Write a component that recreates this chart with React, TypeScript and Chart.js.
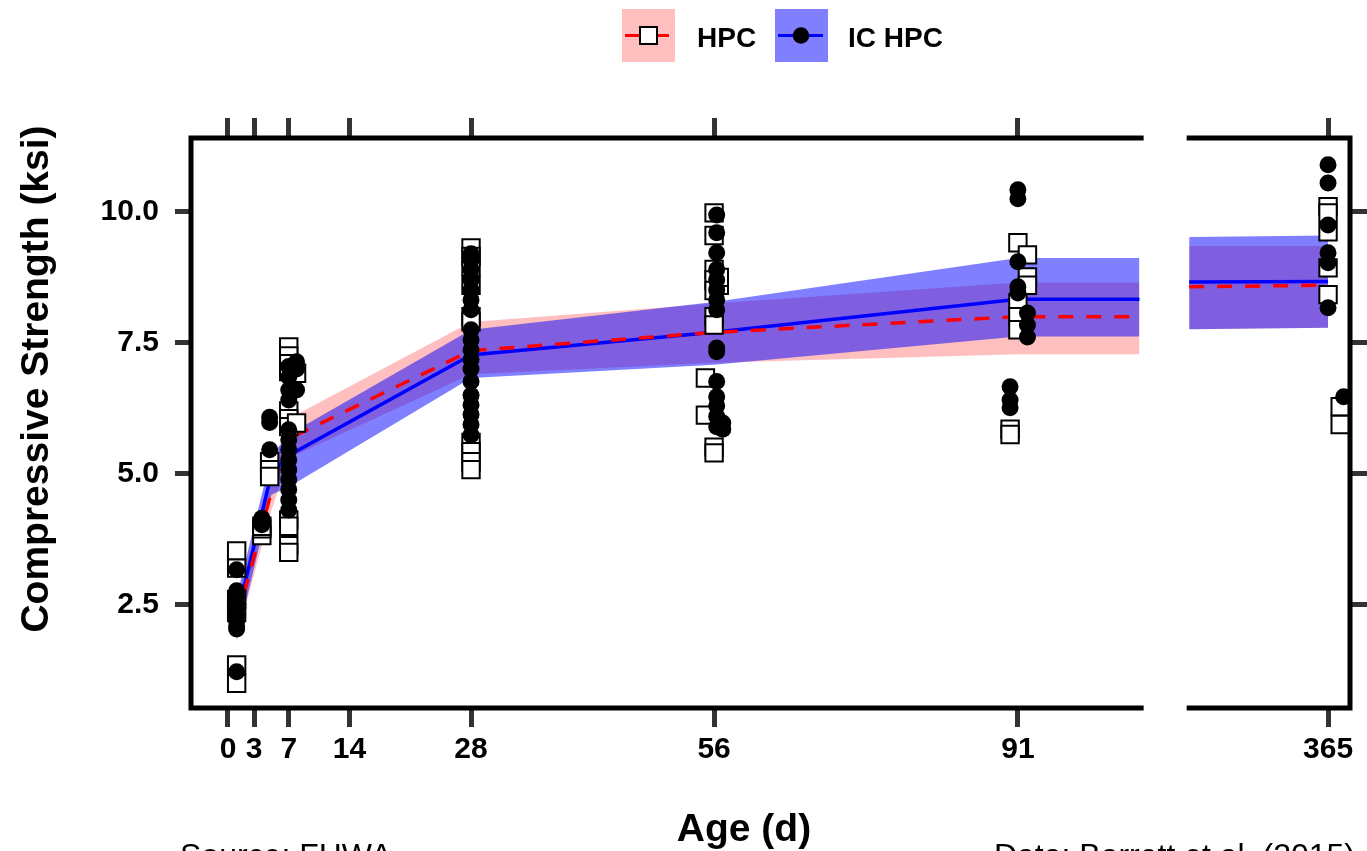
import React, { useEffect, useRef } from "react";
import { Chart, registerables } from "chart.js";

Chart.register(...registerables);

// ---------- data ----------
const xTickAges = [0, 3, 7, 14, 28, 56, 91, 365];
const yTickValues = [2.5, 5, 7.5, 10];

// fitted means and bands, early panel (ages in days)
const fitAges = [1, 5, 7, 28, 56, 91, 105];
const hpcFit = [2.2, 4.65, 5.67, 7.35, 7.7, 8.0, 8.0];
const hpcUpper = [2.55, 5.0, 6.05, 7.9, 8.25, 8.65, 8.65];
const hpcLower = [1.85, 4.3, 5.3, 6.9, 7.12, 7.28, 7.28];
const icFit = [2.25, 5.0, 5.35, 7.27, 7.7, 8.33, 8.33];
const icUpper = [2.65, 5.35, 5.75, 7.75, 8.28, 9.12, 9.12];
const icLower = [1.8, 4.6, 4.75, 6.83, 7.08, 7.62, 7.62];

// fitted means and bands, late panel
const lateAges = [349, 365];
const hpcLateFit = [8.57, 8.6];
const hpcLateUpper = [9.35, 9.35];
const hpcLateLower = [7.76, 7.79];
const icLateFit = [8.66, 8.67];
const icLateUpper = [9.52, 9.55];
const icLateLower = [7.76, 7.79];

// observations
const hpcAges = [
  1, 1, 1, 1, 1, 1,
  3.9, 3.9, 3.9,
  4.8, 4.8, 4.8,
  7, 7, 7, 7, 7, 7, 7, 7, 7, 7, 7,
  7.9, 7.9,
  28, 28, 28, 28, 28, 28, 28, 28, 28, 28,
  56, 56, 56, 56, 56, 56, 56, 56, 56,
  55, 55,
  56.6, 56.6,
  91, 91, 91, 91,
  92.1, 92.1, 92.1,
  90.1, 90.1,
  365, 365, 365, 365, 365,
  366.4, 366.4,
];
const hpcValues = [
  3.53, 3.2, 2.6, 2.35, 1.35, 1.0,
  3.82, 3.95, 4.0,
  5.23, 5.08, 4.95,
  7.42, 7.25, 7.1, 6.95, 6.2, 6.05, 5.9, 4.12, 4.0, 3.63, 3.5,
  6.92, 5.97,
  9.31, 9.15, 8.95, 8.6, 8.0, 7.9, 5.6, 5.42, 5.23, 5.08,
  9.98, 9.55, 8.9, 8.7, 8.5, 8.0, 7.84, 5.51, 5.4,
  6.83, 6.12,
  8.6, 8.75,
  9.41, 8.26, 8.0, 7.75,
  9.18, 8.76, 8.6,
  5.85, 5.75,
  10.1, 9.98, 9.62, 8.93, 8.42,
  6.28, 5.94,
];

const icAges = [
  1, 1, 1, 1, 1, 1, 1, 1, 1, 1,
  3.9, 3.9, 3.9,
  4.8, 4.8, 4.8,
  7, 7, 7, 7, 7, 7, 7, 7, 7, 7, 7, 7, 7,
  7.9, 7.9, 7.9,
  28, 28, 28, 28, 28, 28, 28, 28, 28, 28, 28, 28, 28, 28, 28, 28, 28, 28,
  56.3, 56.3, 56.3, 56.3, 56.3, 56.3, 56.3, 56.3, 56.3, 56.3, 56.3, 56.3, 56.3, 56.3, 56.3,
  57, 57,
  91, 91, 91, 91, 91,
  92.1, 92.1, 92.1,
  90.1, 90.1, 90.1,
  365, 365, 365, 365, 365, 365,
  366.8,
];
const icValues = [
  3.17, 2.77, 2.65, 2.54, 2.42, 2.31, 2.2, 2.1, 2.04, 1.22,
  4.15, 4.1, 4.03,
  6.08, 5.98, 5.46,
  7.05, 6.85, 6.41, 5.84, 5.65, 5.46, 5.27, 5.08, 4.89, 4.7, 4.5, 4.31, 6.6,
  7.14, 7.0, 6.6,
  9.2, 9.08, 8.9, 8.7, 8.51, 8.32, 8.13, 7.75, 7.56, 7.37, 7.18, 7.0, 6.76, 6.5, 6.32, 6.13, 5.94, 5.74,
  9.94, 9.6, 9.22, 8.9, 8.7, 8.51, 8.32, 8.13, 7.4, 7.33, 6.76, 6.47, 6.3, 6.1, 5.9,
  5.97, 5.85,
  10.42, 10.25, 9.05, 8.57, 8.45,
  8.07, 7.84, 7.61,
  6.66, 6.41, 6.26,
  10.9, 10.55, 9.75, 9.22, 9.03, 8.17,
  6.47,
];

// ---------- axis break ----------
const BREAK_AT = 200; // ages above this are drawn in the right panel
const BREAK_SHIFT = 238.27; // days removed by the axis break
const LEFT_PANEL_END = 105.2;
const RIGHT_PANEL_START = 349;
const X_MIN = -4.26;
const X_MAX = 129.26;
const Y_MIN = 0.53;
const Y_MAX = 11.41;

const toAxis = (age: number) => (age > BREAK_AT ? age - BREAK_SHIFT : age);
const pts = (xs: number[], ys: number[]) =>
  xs.map((x, i) => ({ x: toAxis(x), y: ys[i] }));

const FONT = "'Liberation Sans', Arial, Helvetica, sans-serif";
const HPC_FILL = "rgba(255,0,0,0.25)";
const IC_FILL = "rgba(0,0,255,0.5)";
const TICK_GRAY = "#333333";

const decorPlugin = {
  id: "decor",
  afterDraw(chart: any) {
    const ctx = chart.ctx as CanvasRenderingContext2D;
    const xs = chart.scales.x;
    const ca = chart.chartArea;
    const leftEnd = xs.getPixelForValue(LEFT_PANEL_END);
    const rightStart = xs.getPixelForValue(toAxis(RIGHT_PANEL_START));
    ctx.save();
    // panel borders
    ctx.strokeStyle = "#000";
    ctx.lineWidth = 5;
    ctx.lineCap = "square";
    ctx.beginPath();
    ctx.moveTo(leftEnd, ca.top);
    ctx.lineTo(ca.left, ca.top);
    ctx.lineTo(ca.left, ca.bottom);
    ctx.lineTo(leftEnd, ca.bottom);
    ctx.stroke();
    ctx.beginPath();
    ctx.moveTo(rightStart, ca.top);
    ctx.lineTo(ca.right, ca.top);
    ctx.lineTo(ca.right, ca.bottom);
    ctx.lineTo(rightStart, ca.bottom);
    ctx.stroke();

    // legend
    ctx.lineCap = "butt";
    ctx.fillStyle = HPC_FILL;
    ctx.fillRect(622, 9, 53, 53);
    ctx.strokeStyle = "#ff0000";
    ctx.lineWidth = 3;
    ctx.beginPath();
    ctx.moveTo(625, 35.5);
    ctx.lineTo(669, 35.5);
    ctx.stroke();
    ctx.fillStyle = "#fff";
    ctx.fillRect(640, 27, 17, 17);
    ctx.strokeStyle = "#000";
    ctx.lineWidth = 2;
    ctx.strokeRect(640, 27, 17, 17);

    ctx.fillStyle = IC_FILL;
    ctx.fillRect(775, 9, 53, 53);
    ctx.strokeStyle = "#0000ff";
    ctx.lineWidth = 3;
    ctx.beginPath();
    ctx.moveTo(778, 35.5);
    ctx.lineTo(823, 35.5);
    ctx.stroke();
    ctx.fillStyle = "#000";
    ctx.beginPath();
    ctx.arc(801, 35.5, 8.3, 0, Math.PI * 2);
    ctx.fill();

    ctx.fillStyle = "#000";
    ctx.font = `bold 28px ${FONT}`;
    ctx.textAlign = "left";
    ctx.textBaseline = "alphabetic";
    ctx.fillText("HPC", 697, 47);
    ctx.fillText("IC HPC", 848, 47);

    // axis titles
    ctx.font = `bold 39px ${FONT}`;
    ctx.textAlign = "center";
    ctx.fillText("Age (d)", 744, 841);
    ctx.save();
    ctx.translate(48, 379);
    ctx.rotate(-Math.PI / 2);
    ctx.fillText("Compressive Strength (ksi)", 0, 0);
    ctx.restore();

    // captions
    ctx.font = `32px ${FONT}`;
    ctx.textAlign = "left";
    ctx.fillText("Source: FHWA", 180, 866);
    ctx.textAlign = "right";
    ctx.fillText("Data: Barrett et al. (2015)", 1355, 866);
    ctx.restore();
  },
};

const lineDs = (
  label: string,
  xs: number[],
  ys: number[],
  order: number,
  extra: any = {}
) => ({
  type: "line" as const,
  label,
  data: pts(xs, ys),
  order,
  pointRadius: 0,
  borderWidth: 0,
  tension: 0,
  fill: false,
  ...extra,
});

export default function App() {
  const ref = useRef<HTMLCanvasElement | null>(null);

  useEffect(() => {
    if (!ref.current) return;
    const datasets: any[] = [];
    const addBand = (
      xs: number[],
      lo: number[],
      hi: number[],
      color: string,
      order: number
    ) => {
      const loIdx = datasets.length;
      datasets.push(lineDs("lo", xs, lo, order));
      datasets.push(
        lineDs("hi", xs, hi, order, {
          fill: { target: loIdx },
          backgroundColor: color,
        })
      );
    };
    addBand(fitAges, hpcLower, hpcUpper, HPC_FILL, 20);
    addBand(lateAges, hpcLateLower, hpcLateUpper, HPC_FILL, 20);
    addBand(fitAges, icLower, icUpper, IC_FILL, 18);
    addBand(lateAges, icLateLower, icLateUpper, IC_FILL, 18);
    const icLine = { borderColor: "#0000ff", borderWidth: 3.5 };
    const hpcLine = {
      borderColor: "#ff0000",
      borderWidth: 3.5,
      borderDash: [15, 13],
    };
    datasets.push(lineDs("IC HPC", fitAges, icFit, 16, icLine));
    datasets.push(lineDs("IC HPC", lateAges, icLateFit, 16, icLine));
    datasets.push(lineDs("HPC", fitAges, hpcFit, 15, hpcLine));
    datasets.push(lineDs("HPC", lateAges, hpcLateFit, 15, hpcLine));
    datasets.push({
      type: "scatter",
      label: "HPC points",
      data: pts(hpcAges, hpcValues),
      order: 12,
      pointStyle: "rect",
      pointRadius: 12.3,
      backgroundColor: "#ffffff",
      borderColor: "#000000",
      borderWidth: 2,
    });
    datasets.push({
      type: "scatter",
      label: "IC HPC points",
      data: pts(icAges, icValues),
      order: 10,
      pointStyle: "circle",
      pointRadius: 8.5,
      backgroundColor: "#000000",
      borderWidth: 0,
    });

    const xTicks = (scale: any) => {
      scale.ticks = xTickAges.map((a) => ({ value: toAxis(a) }));
    };
    const yTicks = (scale: any) => {
      scale.ticks = yTickValues.map((v) => ({ value: v }));
    };
    const tickFont = { family: FONT, size: 30, weight: "bold" as const };

    const chart = new Chart(ref.current, {
      type: "scatter",
      data: { datasets },
      plugins: [decorPlugin],
      options: {
        animation: false,
        responsive: false,
        devicePixelRatio: 1,
        layout: { padding: 0 },
        plugins: {
          legend: { display: false },
          tooltip: { enabled: false },
          title: { display: false },
        },
        scales: {
          x: {
            type: "linear",
            position: "bottom",
            min: X_MIN,
            max: X_MAX,
            afterBuildTicks: xTicks,
            afterFit: (s: any) => {
              s.height = 143;
            },
            border: { display: false },
            grid: {
              drawOnChartArea: false,
              drawTicks: true,
              tickLength: 19,
              tickWidth: 5,
              tickColor: TICK_GRAY,
            },
            ticks: {
              autoSkip: false,
              maxRotation: 0,
              padding: 5,
              color: "#000",
              font: tickFont,
              callback: (_v: any, i: number) => String(xTickAges[i]),
            },
          },
          x2: {
            type: "linear",
            axis: "x",
            position: "top",
            min: X_MIN,
            max: X_MAX,
            afterBuildTicks: xTicks,
            afterFit: (s: any) => {
              s.height = 138;
            },
            border: { display: false },
            grid: {
              drawOnChartArea: false,
              drawTicks: true,
              tickLength: 20,
              tickWidth: 5,
              tickColor: TICK_GRAY,
            },
            ticks: { display: false },
          },
          y: {
            type: "linear",
            position: "left",
            min: Y_MIN,
            max: Y_MAX,
            afterBuildTicks: yTicks,
            afterFit: (s: any) => {
              s.width = 191;
            },
            border: { display: false },
            grid: {
              drawOnChartArea: false,
              drawTicks: true,
              tickLength: 16,
              tickWidth: 5,
              tickColor: TICK_GRAY,
            },
            ticks: {
              padding: 16,
              color: "#000",
              font: tickFont,
              callback: (v: any) => Number(v).toFixed(1),
            },
          },
          y2: {
            type: "linear",
            axis: "y",
            position: "right",
            min: Y_MIN,
            max: Y_MAX,
            afterBuildTicks: yTicks,
            afterFit: (s: any) => {
              s.width = 17;
            },
            border: { display: false },
            grid: {
              drawOnChartArea: false,
              drawTicks: true,
              tickLength: 17,
              tickWidth: 5,
              tickColor: TICK_GRAY,
            },
            ticks: { display: false },
          },
        },
      },
    });
    return () => chart.destroy();
  }, []);

  return (
    <div
      style={{
        position: "fixed",
        left: 0,
        top: 0,
        width: 1367,
        height: 851,
        background: "#fff",
        overflow: "hidden",
      }}
    >
      <canvas ref={ref} width={1367} height={851} style={{ display: "block" }} />
    </div>
  );
}
